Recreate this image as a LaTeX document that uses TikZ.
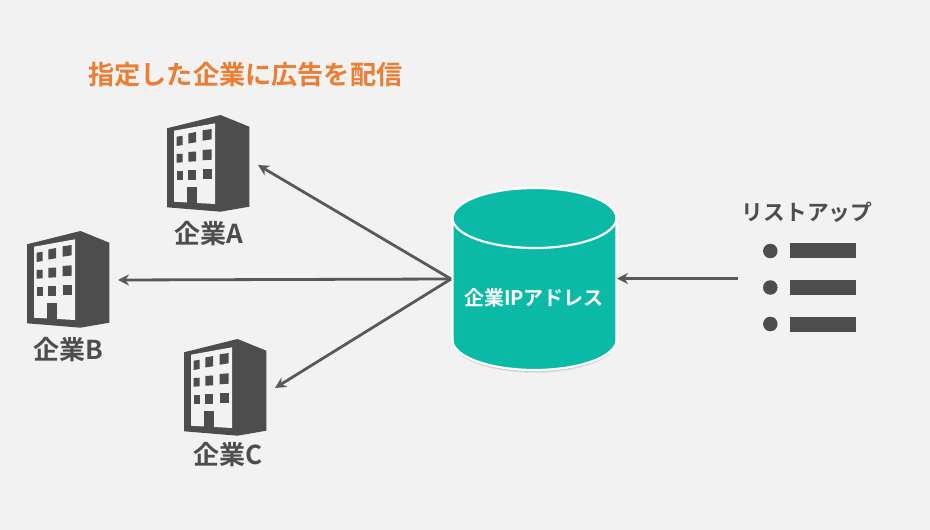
\documentclass[tikz,border=0pt]{standalone}
\usepackage{fontspec}
\setmainfont{Noto Sans CJK JP}[BoldFont={Noto Sans CJK JP Bold}]
\newfontfamily\jpbold{Noto Sans CJK JP Bold}
\usetikzlibrary{arrows.meta}
\definecolor{pagebg}{HTML}{F2F2F2}
\definecolor{ink}{HTML}{4D4D4D}
\definecolor{wire}{HTML}{595959}
\definecolor{teal}{HTML}{0ABAA6}
\definecolor{accent}{HTML}{ED7D31}
\tikzset{
  x=1pt, y=-1pt,
  caption/.style={text=ink, inner sep=0pt, font=\jpbold\fontsize{26}{30}\selectfont},
  heading/.style={text=accent, inner sep=0pt, anchor=west, font=\jpbold\fontsize{26.2}{30}\selectfont},
  dbtext/.style={text=white, inner sep=0pt, font=\jpbold\fontsize{20}{24}\selectfont},
  listtitle/.style={text=ink, inner sep=0pt, font=\jpbold\fontsize{21.7}{26}\selectfont},
  feed/.style={draw=wire, line width=2.8pt, -{Stealth[length=11pt,width=11pt]}},
  office/.pic={
    \fill[ink] (0,13.3) -- (53.5,0) -- (82.3,11.7) -- (82.3,91.7) -- (53.5,96.7) -- (0,92.3) -- cycle;
    \fill[pagebg] (7,15.7) -- (48,8.3) -- (48,89) -- (7,86.7) -- cycle;
    \fill[ink] (19.7,72.3) rectangle (30.3,88);
    % window grid
    \fill[ink] (9.7,21.7) -- (15.7,20.7) -- (15.7,30) -- (9.7,31) -- cycle;
    \fill[ink] (21.3,18.5) -- (29,17) -- (29,27.3) -- (21.3,28.5) -- cycle;
    \fill[ink] (35.7,15.3) -- (44.7,14) -- (44.7,24.3) -- (35.7,25.7) -- cycle;
    \fill[ink] (9.7,39) -- (15.7,38.7) -- (15.7,47.3) -- (9.7,47.7) -- cycle;
    \fill[ink] (21.3,37) -- (29,36.5) -- (29,46.3) -- (21.3,46.7) -- cycle;
    \fill[ink] (35.7,35) -- (44.7,34.3) -- (44.7,44.7) -- (35.7,45.3) -- cycle;
    \fill[ink] (9.7,56.3) -- (15.7,56.3) -- (15.7,65) -- (9.7,65) -- cycle;
    \fill[ink] (21.3,55.3) -- (29,55.3) -- (29,65) -- (21.3,65) -- cycle;
    \fill[ink] (35.7,54.3) -- (44.7,54.3) -- (44.7,64.3) -- (35.7,64.3) -- cycle;
  },
  bullet/.style={circle, fill=ink, minimum size=14.5pt, inner sep=0pt},
  bar/.style={fill=ink, minimum width=66pt, minimum height=15pt, inner sep=0pt},
}
\begin{document}
\begin{tikzpicture}
  \useasboundingbox[fill=pagebg] (0,0) rectangle (930,530);

  \node[heading] (title) at (88,75) {指定した企業に広告を配信};

  % office buildings with their captions
  \pic at (167,115) {office};
  \pic at (27,231) {office};
  \pic at (184,339) {office};
  \node[caption] (capA) at (209,234) {企業A};
  \node[caption] (capB) at (68,350) {企業B};
  \node[caption] (capC) at (228,455) {企業C};

  % soft shadow under the database
  \foreach \grow/\op in {2/0.05, 1.2/0.08, 0.5/0.10}{
    \fill[black, opacity=\op] (453.5,341+\grow)
      arc[start angle=180, end angle=0, x radius=81, y radius=30]
      -- cycle;
  }
  % database cylinder
  \path[fill=teal, draw=white, line width=2.2pt]
    (452.5,218) -- (452.5,340)
    arc[start angle=180, end angle=0, x radius=82, y radius=30]
    -- (616.5,218)
    arc[start angle=0, end angle=-180, x radius=82, y radius=30] -- cycle;
  \draw[white, line width=2.2pt] (452.5,218)
    arc[start angle=180, end angle=0, x radius=82, y radius=30];
  \node[dbtext] (db) at (534,298) {企業IPアドレス};

  % connector ends
  \coordinate (dbWest) at (451,279);
  \coordinate (dbEast) at (617,278.5);
  \coordinate (toA) at (258,165);
  \coordinate (toB) at (118,280);
  \coordinate (toC) at (275,388);
  \coordinate (listOut) at (738,278.5);

  \draw[feed] (dbWest) -- (toA);
  \draw[feed] (dbWest) -- (toB);
  \draw[feed] (dbWest) -- (toC);
  \draw[feed] (listOut) -- (dbEast);

  % list symbol
  \node[listtitle] (listcap) at (807,212) {リストアップ};
  \node[bullet] (b1) at (770.3,251) {};
  \node[bullet] (b2) at (770.3,287.5) {};
  \node[bullet] (b3) at (770.3,324) {};
  \node[bar] (r1) at (823,250.5) {};
  \node[bar] (r2) at (823,287.5) {};
  \node[bar] (r3) at (823,324.5) {};
\end{tikzpicture}
\end{document}
